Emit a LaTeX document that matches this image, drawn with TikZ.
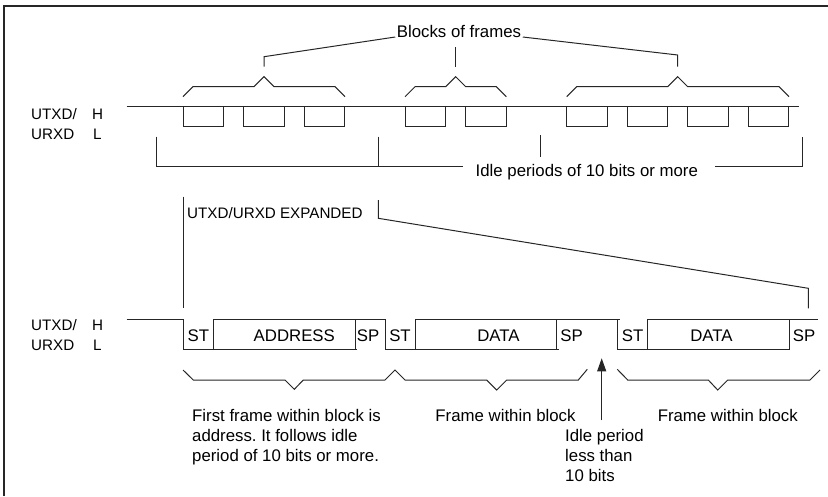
\documentclass[tikz,border=0pt]{standalone}
\usepackage{fontspec}
\setmainfont{Liberation Sans}
\usetikzlibrary{arrows.meta}
\frenchspacing
\begin{document}
\begin{tikzpicture}[x=1pt,y=-1pt,
  ln/.style={line width=1pt, draw=black!85},
  frm/.style={line width=1.8pt, draw=black!85},
  big/.style={font=\fontsize{16.8}{20}\selectfont, inner sep=0pt},
  sml/.style={font=\fontsize{15.2}{18}\selectfont, inner sep=0pt},
  tip/.style={-{Triangle[length=13pt,width=9pt]}}
]
\useasboundingbox (0,0) rectangle (828,496);
\draw[frm] (4.3,496) -- (4.3,5.7) -- (828,5.7);

% top signal labels
\node[sml,anchor=base west] (t1) at (31,119) {UTXD/};
\node[sml,anchor=base west] (t1h) at (92,119) {H};
\node[sml,anchor=base west] (t2) at (31,139) {URXD};
\node[sml,anchor=base west] (t2l) at (93,139) {L};

% top waveform
\draw[ln] (126.7,106.7) -- (799,106.7);
\foreach \x in {183,243.7,304.3,405,465.7,566.7,627.3,687.7,748.3}
  \draw[ln] (\x,106.7) |- (\x+40.6,126.7) -- (\x+40.6,106.7);

% braces over blocks
\foreach \a/\c/\b in {183/264/345, 405/455.7/506.3, 566.7/677.7/789}
  \draw[ln] (\a,96.7) -- (\a+10,86.7) -- (\c-10,86.7) -- (\c,76.7) -- (\c+10,86.7) -- (\b-10,86.7) -- (\b,96.7);

% Blocks of frames
\node[big,anchor=base] (blk) at (459,37) {Blocks of frames};
\coordinate (p1) at (264,66.7);
\coordinate (p2) at (455.7,66.7);
\coordinate (p3) at (677.7,66.7);
\draw[ln] (p1) -- ++(0,-10) -- ([xshift=-1.5pt]blk.base west);
\draw[ln] (p2) -- ++(0,-20);
\draw[ln] (p3) -- ++(0,-11.7) -- ([xshift=1.5pt]blk.base east);

% idle periods bracket
\node[big,anchor=base west] (idl) at (475.5,176.5) {Idle periods of 10 bits or more};
\draw[ln] (156,136.7) |- (463,166.7);
\draw[ln] (378.3,136.7) -- (378.3,166.7);
\draw[ln] (540,135) -- (540,156.7);
\draw[ln] (715,166.7) -| (802.3,136.7);

% expansion
\node[sml,anchor=base west] (exp) at (187,218.3) {UTXD/URXD EXPANDED};
\draw[ln] (183,196.7) -- (183,308.3);
\draw[ln] (378.3,200) -- (378.3,218.3) -- (808.3,288.3) -- (808.3,308.3);

% lower signal labels
\node[sml,anchor=base west] (b1) at (31,330) {UTXD/};
\node[sml,anchor=base west] (b1h) at (92,330) {H};
\node[sml,anchor=base west] (b2) at (31,350) {URXD};
\node[sml,anchor=base west] (b2l) at (93,350) {L};

% lower waveform
\draw[ln] (126.7,319) -- (183.3,319) -- (183.3,349) -- (357,349);
\draw[ln] (213.3,349) -- (213.3,319) -- (385,319) -- (385,349) -- (559,349);
\draw[ln] (355,319) -- (355,349);
\draw[ln] (415,349) -- (415,319) -- (620,319);
\draw[ln] (556.7,319) -- (556.7,349);
\draw[ln] (617.7,319) -- (617.7,349) -- (789,349) -- (789,319);
\draw[ln] (647.7,349) -- (647.7,319) -- (818.3,319);

% frame field labels
\node[big,anchor=base] (st1) at (198.3,341.7) {ST};
\node[big,anchor=base] (addr) at (294.3,341.7) {ADDRESS};
\node[big,anchor=base] (sp1) at (368,341.7) {SP};
\node[big,anchor=base] (st2) at (400,341.7) {ST};
\node[big,anchor=base] (d1) at (498.5,341.7) {DATA};
\node[big,anchor=base] (sp2) at (571.7,341.7) {SP};
\node[big,anchor=base] (st3) at (632.7,341.7) {ST};
\node[big,anchor=base] (d2) at (711.5,341.7) {DATA};
\node[big,anchor=base] (sp3) at (804,341.7) {SP};

% lower braces
\draw[ln] (183,370) -- (193.3,380) -- (285,380) -- (294.3,389.3) -- (303.3,380) -- (385,380) -- (395,370) -- (405,380) -- (486.7,380) -- (496.7,390) -- (506.7,380) -- (578.3,380) -- (587.3,369.3);
\draw[ln] (617.3,369.3) -- (627.7,380) -- (708.3,380) -- (717.7,390) -- (727.7,380) -- (810,380) -- (820,370);

% bottom texts
\node[big,anchor=base west] (f1a) at (192,421.7) {First frame within block is};
\node[big,anchor=base west] (f1b) at (192,441.7) {address. It follows idle};
\node[big,anchor=base west] (f1c) at (192,461.7) {period of 10 bits or more.};
\node[big,anchor=base] (f2) at (505.5,421.7) {Frame within block};
\node[big,anchor=base] (f3) at (727.8,421.7) {Frame within block};
\node[big,anchor=base west] (i1) at (565,441.7) {Idle period};
\node[big,anchor=base west] (i2) at (565,461.7) {less than};
\node[big,anchor=base west] (i3) at (565,481.7) {10 bits};

\coordinate (ab) at (601.7,420);
\coordinate (at) at (601.7,358.3);
\draw[ln,tip,fill=black!85] (ab) -- (at);
\end{tikzpicture}
\end{document}
